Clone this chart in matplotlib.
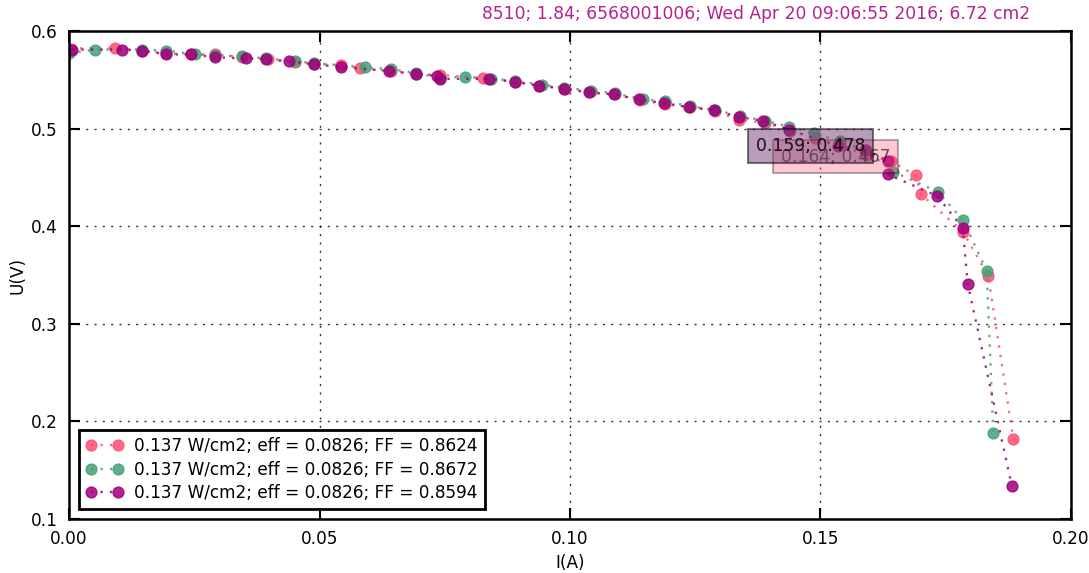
import matplotlib
matplotlib.use('Agg')
import matplotlib.pyplot as plt

# IV curves, three measurements of the same cell
i_pink = [0.0003, 0.0092, 0.0145, 0.0194, 0.0244, 0.0292, 0.0345, 0.0398, 0.0452, 0.0489,
          0.0543, 0.0580, 0.0642, 0.0692, 0.0741, 0.0826, 0.0890, 0.0938, 0.0990, 0.1040,
          0.1090, 0.1140, 0.1190, 0.1240, 0.1290, 0.1337, 0.1390, 0.1440, 0.1490, 0.1540,
          0.1590, 0.1640, 0.1690, 0.1700, 0.1785, 0.1835, 0.1885]
u_pink = [0.582, 0.583, 0.580, 0.577, 0.576, 0.576, 0.573, 0.571, 0.568, 0.566,
          0.565, 0.562, 0.559, 0.556, 0.555, 0.552, 0.548, 0.544, 0.541, 0.537,
          0.535, 0.529, 0.525, 0.522, 0.518, 0.509, 0.506, 0.498, 0.490, 0.483,
          0.473, 0.467, 0.452, 0.433, 0.394, 0.349, 0.182]

i_green = [0.0000, 0.0052, 0.0145, 0.0194, 0.0252, 0.0292, 0.0345, 0.0393, 0.0452, 0.0489,
           0.0590, 0.0642, 0.0692, 0.0741, 0.0790, 0.0842, 0.0890, 0.0945, 0.0988, 0.1042,
           0.1090, 0.1145, 0.1190, 0.1240, 0.1290, 0.1340, 0.1390, 0.1437, 0.1487, 0.1540,
           0.1590, 0.1645, 0.1735, 0.1785, 0.1832, 0.1845]
u_green = [0.577, 0.581, 0.581, 0.580, 0.576, 0.575, 0.574, 0.572, 0.569, 0.567,
           0.563, 0.561, 0.557, 0.552, 0.553, 0.551, 0.549, 0.545, 0.542, 0.539,
           0.536, 0.530, 0.528, 0.523, 0.519, 0.513, 0.508, 0.502, 0.495, 0.487,
           0.478, 0.456, 0.435, 0.406, 0.354, 0.188]

i_mag = [0.0006, 0.0105, 0.0145, 0.0194, 0.0244, 0.0292, 0.0353, 0.0393, 0.0439, 0.0489,
         0.0543, 0.0639, 0.0692, 0.0734, 0.0741, 0.0838, 0.0890, 0.0938, 0.0988, 0.1038,
         0.1088, 0.1138, 0.1188, 0.1238, 0.1287, 0.1337, 0.1385, 0.1437, 0.1535, 0.1589,
         0.1635, 0.1635, 0.1733, 0.1784, 0.1794, 0.1882]
u_mag = [0.581, 0.581, 0.580, 0.576, 0.576, 0.573, 0.572, 0.571, 0.569, 0.566,
         0.563, 0.559, 0.556, 0.554, 0.551, 0.551, 0.548, 0.544, 0.541, 0.537,
         0.535, 0.530, 0.526, 0.522, 0.519, 0.512, 0.508, 0.499, 0.482, 0.478,
         0.467, 0.453, 0.431, 0.398, 0.341, 0.134]

labels = ['0.137 W/cm2; eff = 0.0826; FF = 0.8624',
          '0.137 W/cm2; eff = 0.0826; FF = 0.8672',
          '0.137 W/cm2; eff = 0.0826; FF = 0.8594']
colors = ['#FF4F72', '#45A176', '#A0007C']

# maximum power points
mpp_i = [0.164, 0.159, 0.159]
mpp_u = [0.467, 0.478, 0.478]

title = '8510; 1.84; 6568001006; Wed Apr 20 09:06:55 2016; 6.72 cm2'

fs = 12.2

fig = plt.figure(figsize=(10.89, 5.73), dpi=100)
ax = fig.add_axes([0.0634, 0.0942, 0.92, 0.8517])

series = [(i_pink, u_pink), (i_green, u_green), (i_mag, u_mag)]
for (ii, uu), lab, c in zip(series, labels, colors):
    ax.plot(ii, uu, linestyle=(0, (1, 3)), linewidth=1.7, marker='o', markersize=7.8,
            color=c, markeredgecolor=c, alpha=0.85, label=lab)

for x, y, c in zip(mpp_i, mpp_u, colors):
    ax.annotate('%.3f; %.3f' % (x, y), xy=(x, y), xytext=(0, 3), textcoords='offset points',
                ha='right', va='center', fontsize=12.3, alpha=0.62,
                bbox=dict(boxstyle='square,pad=0.45', fc=c, ec='k', lw=1.5, alpha=0.3))

ax.set_xlim(0, 0.2)
ax.set_ylim(0.1, 0.6)
ax.set_xticks([0.0, 0.05, 0.10, 0.15, 0.20])
ax.set_xticklabels(['0.00', '0.05', '0.10', '0.15', '0.20'])
ax.set_yticks([0.1, 0.2, 0.3, 0.4, 0.5, 0.6])
ax.grid(True, color='k', linestyle=(0, (1.5, 4.5)), linewidth=1, alpha=0.8)
ax.tick_params(direction='in', length=8, width=1.5, top=True, right=True,
               labelsize=fs, pad=8)
for s in ax.spines.values():
    s.set_linewidth(1.8)

ax.set_xlabel('I(A)', fontsize=fs, labelpad=4)
ax.set_ylabel('U(V)', fontsize=fs, labelpad=3)
ax.text(0.959, 1.016, title, transform=ax.transAxes, ha='right', va='bottom',
        fontsize=12.3, color='#B5228E')

leg = ax.legend(loc='lower left', numpoints=2, fontsize=fs, handlelength=2.2,
                handletextpad=0.65, labelspacing=0.32, fancybox=False,
                borderaxespad=0.6)
leg.get_frame().set_edgecolor('k')
leg.get_frame().set_linewidth(2)
leg.get_frame().set_alpha(1)

plt.savefig('out.png', dpi=100)
